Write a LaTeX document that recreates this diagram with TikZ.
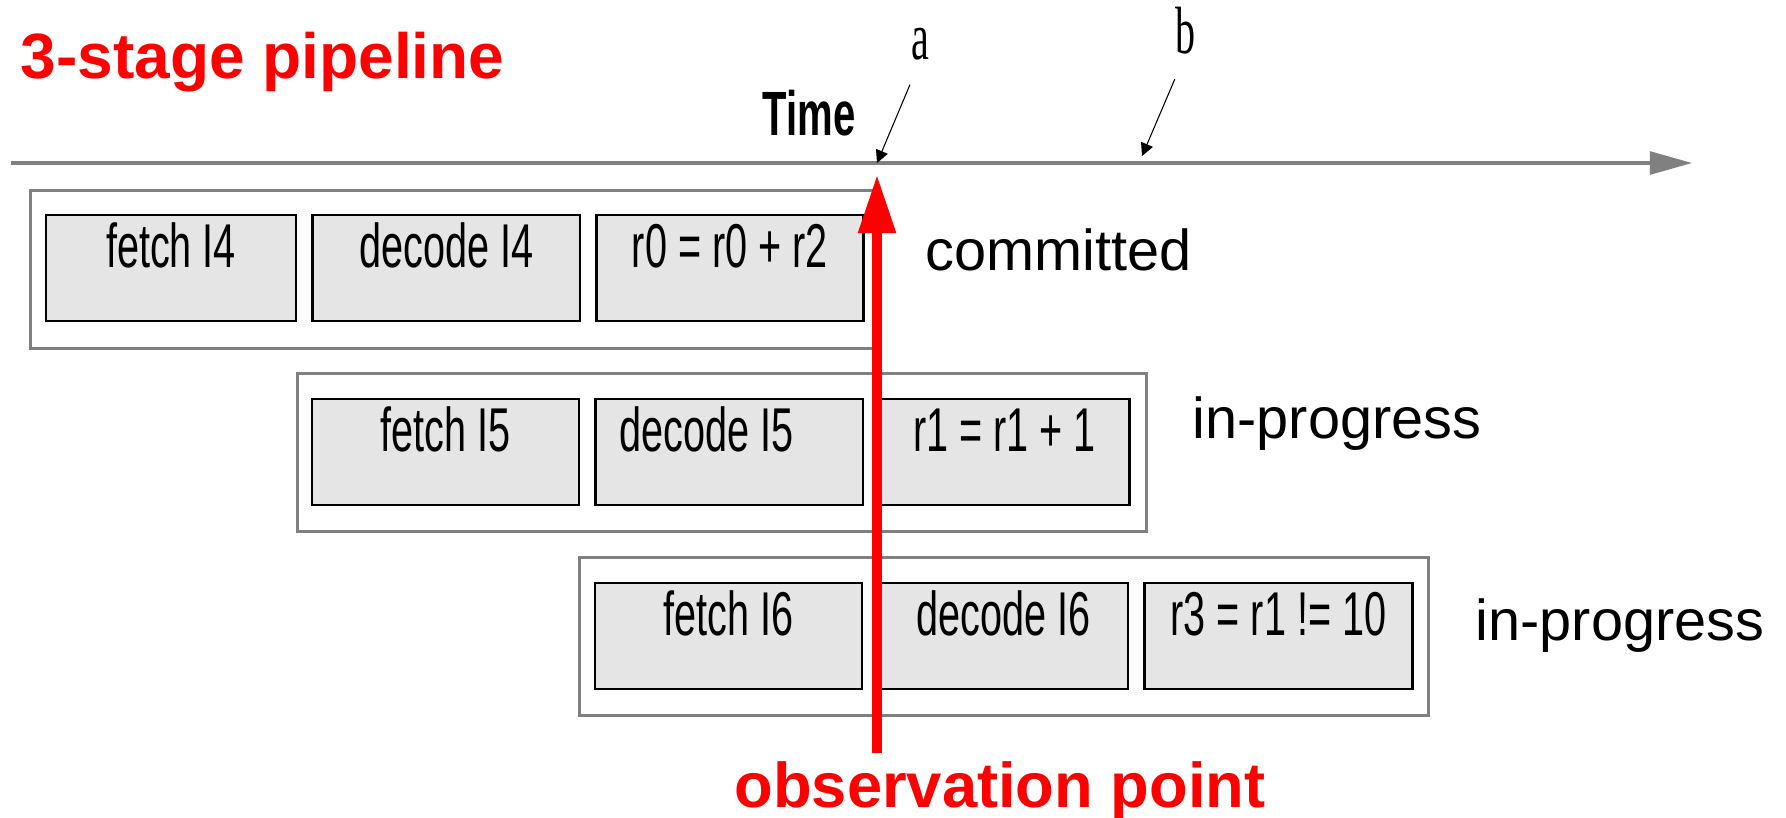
\documentclass[tikz,border=0pt]{standalone}
\usepackage{fontspec}
\setmainfont{Liberation Sans}
\newfontfamily\narrowsans[FakeStretch=0.64]{Liberation Sans}
\newfontfamily\narrowserif[FakeStretch=0.6]{Liberation Serif}
\usetikzlibrary{arrows.meta,positioning}

\begin{document}
\begin{tikzpicture}[x=0.01cm, y=-0.01cm, node distance=0.165cm,
  frame/.style={draw=gray, line width=0.95pt, anchor=north west,
    minimum width=8.48cm, minimum height=1.58cm, inner sep=0pt},
  stage/.style={draw=black, fill=gray!20, line width=0.75pt, inner sep=0pt, outer sep=0pt,
    minimum width=2.67cm, text height=0.52cm, text depth=0.54cm,
    font=\narrowsans\fontsize{17.6pt}{20pt}\selectfont},
  status/.style={anchor=base west, inner sep=0pt,
    font=\fontsize{16.4pt}{19pt}\selectfont},
  pointlbl/.style={inner sep=0pt, font=\narrowserif\fontsize{19pt}{22pt}\selectfont},
  tick/.style={line width=0.3pt, shorten <=0.26cm, -{Triangle[length=3.6pt, width=3.6pt]}}]
  % Picture size
  \useasboundingbox (0,0) rectangle (1786,817);

  % Title
  \node[anchor=base west, inner sep=0pt, text=red,
    font=\bfseries\fontsize{18.2pt}{22pt}\selectfont] (title) at (20,78) {3-stage pipeline};

  % Time axis
  \coordinate (t0) at (11,163);
  \coordinate (t1) at (1692,163);
  \draw[gray, line width=0.95pt, -{Triangle[length=12pt, width=6.5pt]}] (t0) -- (t1);
  \node[anchor=base west, inner sep=0pt,
    font=\narrowsans\bfseries\fontsize{17.8pt}{21pt}\selectfont] (time) at (762,135) {Time};

  % Points a and b on the axis
  \node[pointlbl] (la) at (920,44) {a};
  \node[pointlbl] (lb) at (1185,31) {b};
  \coordinate (ta) at (877,163);
  \coordinate (tb) at (1142,156);
  \draw[tick] (la.south) -- (ta);
  \draw[tick] (lb.south) -- (tb);

  % Instruction I4
  \node[frame] (row4) at (29,189) {};
  \node[stage, anchor=north west, minimum width=2.5cm] (f4) at (46,215) {fetch I4};
  \node[stage, right=of f4] (d4) {decode I4};
  \node[stage, right=of d4] (e4) {r0 = r0 + r2};
  \node[status] (s4) at (925,270) {committed};

  % Instruction I5
  \node[frame] (row5) at (296,372) {};
  \node[stage, anchor=north west] (f5) at (312,399) {fetch I5};
  \node[stage, right=of f5] (d5) {\hspace*{-0.46cm}decode I5};
  \node[stage, right=of d5, minimum width=2.5cm] (e5) {r1 = r1 + 1};
  \node[status] (s5) at (1192,438) {in-progress};

  % Instruction I6
  \node[frame] (row6) at (578,556) {};
  \node[stage, anchor=north west] (f6) at (595,583) {fetch I6};
  \node[stage, right=of f6, minimum width=2.49cm] (d6) {decode I6};
  \node[stage, right=of d6, minimum width=2.68cm] (e6) {r3 = r1 != 10};
  \node[status] (s6) at (1475,640) {in-progress};

  % Observation point
  \node[anchor=base, inner sep=0pt, text=red,
    font=\bfseries\fontsize{18pt}{22pt}\selectfont] (op) at (1000,807) {observation point};
  \coordinate (tip) at (877,174);
  \draw[red, line width=3.1pt, -{Triangle[length=16.8pt, width=10pt]},
    shorten <=0.07cm] (op.north -| tip) -- (tip);
\end{tikzpicture}
\end{document}
